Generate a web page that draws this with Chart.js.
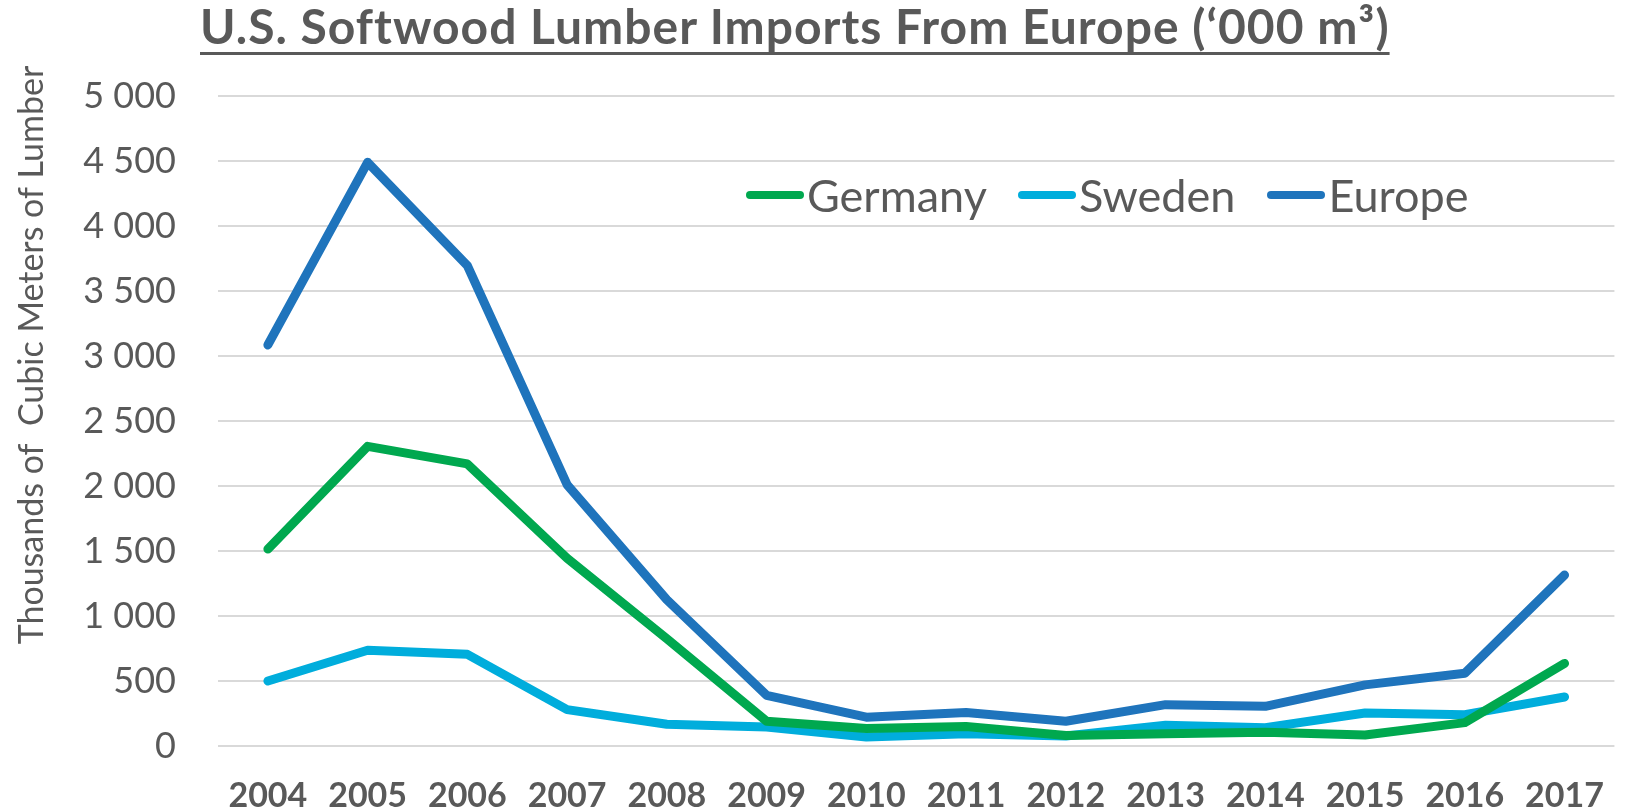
<!DOCTYPE html>
<html>
<head>
<meta charset="utf-8">
<script src="https://cdn.jsdelivr.net/npm/chart.js@4.4.1/dist/chart.umd.min.js"></script>
<style>
  html, body { margin: 0; padding: 0; background: #fff; }
  #wrap { position: relative; width: 1626px; height: 810px; }
  #title {
    position: absolute; left: 200px; top: 2px; margin: 0;
    font: bold 48px Lato, sans-serif; line-height: 48px; color: #595959;
    letter-spacing: 1px;
    text-decoration: underline; text-decoration-thickness: 3px;
    text-underline-offset: 8px; text-decoration-skip-ink: none;
    white-space: nowrap;
  }
  #legend {
    position: absolute; top: 170px; left: 746px; display: flex;
    font: 45px Lato, sans-serif; color: #595959; line-height: 50px;
  }
  .item { display: flex; align-items: center; }
  .swatch { width: 58px; height: 8px; border-radius: 4px; margin-right: 3px; }
</style>
</head>
<body>
<div id="wrap">
  <canvas id="chart" width="1626" height="810"></canvas>
  <div id="title">U.S. Softwood Lumber Imports From Europe (‘000 m³)</div>
  <div id="legend"></div>
</div>
<script>
const years = ["2004", "2005", "2006", "2007", "2008", "2009", "2010",
  "2011", "2012", "2013", "2014", "2015", "2016", "2017"];
const germany = [1515, 2305, 2170, 1445, 825, 190, 135, 150, 80, 95, 105, 85, 180, 635];
const sweden = [500, 736, 705, 280, 167, 146, 70, 95, 77, 159, 141, 254, 241, 377];
const europe = [3085, 4490, 3695, 2010, 1125, 390, 222, 258, 190, 318, 305, 470, 560, 1315];
const yMin = 0;
const yMax = 5000;
const yStep = 500;
const yTitle = "Thousands of  Cubic Meters of Lumber";

const textColor = "#595959";

const series = [
  { label: "Germany", data: germany, color: "#00A84F", gap: 31 },
  { label: "Sweden", data: sweden, color: "#00ADDC", gap: 32 },
  { label: "Europe", data: europe, color: "#1F74BC", gap: 0 },
];

// y axis title drawn off-centre like the original
const yTitlePlugin = {
  id: "yTitle",
  afterDraw(chart) {
    const ctx = chart.ctx;
    ctx.save();
    ctx.translate(32, 355);
    ctx.rotate(-Math.PI / 2);
    ctx.font = "34px Lato, sans-serif";
    ctx.fillStyle = textColor;
    ctx.textAlign = "center";
    ctx.textBaseline = "middle";
    ctx.fillText(yTitle, 0, 0);
    ctx.restore();
  },
};

new Chart(document.getElementById("chart").getContext("2d"), {
  type: "line",
  data: {
    labels: years,
    datasets: series.map((s) => ({
      label: s.label,
      data: s.data,
      borderColor: s.color,
      backgroundColor: s.color,
      borderWidth: 9,
      borderCapStyle: "round",
      borderJoinStyle: "round",
      pointRadius: 0,
      tension: 0,
    })),
  },
  options: {
    responsive: false,
    animation: false,
    layout: { padding: { top: 96, right: 0, left: 0, bottom: 0 } },
    plugins: {
      legend: { display: false },
      title: { display: false },
      tooltip: { enabled: false },
    },
    scales: {
      x: {
        offset: true,
        grid: { display: false },
        border: { display: false },
        ticks: {
          color: textColor,
          font: { family: "Lato", size: 34, weight: "bold" },
          padding: 22,
          maxRotation: 0,
          autoSkip: false,
        },
        afterFit(scale) { scale.height = 64; },
      },
      y: {
        min: yMin,
        max: yMax,
        grid: { color: "#d9d9d9", lineWidth: 2, drawTicks: false },
        border: { display: false },
        ticks: {
          stepSize: yStep,
          color: textColor,
          font: { family: "Lato", size: 36 },
          padding: 42,
          callback: (v) => v.toLocaleString("en-US").replace(/,/g, " "),
        },
        afterFit(scale) { scale.width = 218; },
      },
    },
  },
  plugins: [yTitlePlugin],
});

const legend = document.getElementById("legend");
series.forEach((s) => {
  const item = document.createElement("div");
  item.className = "item";
  item.style.marginRight = s.gap + "px";
  const sw = document.createElement("span");
  sw.className = "swatch";
  sw.style.background = s.color;
  const txt = document.createElement("span");
  txt.textContent = s.label;
  item.appendChild(sw);
  item.appendChild(txt);
  legend.appendChild(item);
});
</script>
</body>
</html>
